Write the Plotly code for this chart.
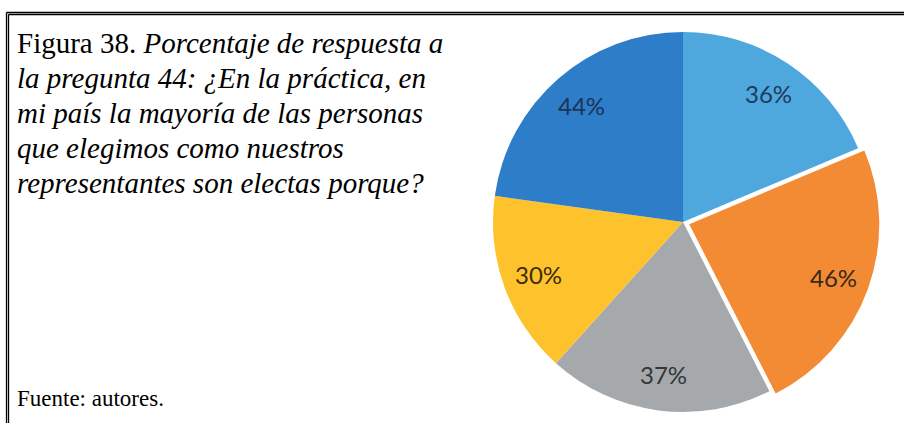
import math

import plotly.graph_objects as go

# -- Data --------------------------------------------------------------------
slice_names = ["A", "B", "C", "D", "E"]
slice_values = [36, 46, 37, 30, 44]
slice_labels = ["36%", "46%", "37%", "30%", "44%"]
slice_colors = ["#4EA8DE", "#F38B35", "#A6A9AC", "#FDC22C", "#2E7DC9"]
label_colors = ["#1F3A5A", "#3A2816", "#33373B", "#3C2E10", "#1B3556"]
slice_pull = [0, 0.035, 0, 0, 0]

title_lines = [
    "Figura 38. <i>Porcentaje de respuesta a</i>",
    "<i>la pregunta 44: ¿En la práctica, en</i>",
    "<i>mi país la mayoría de las personas</i>",
    "<i>que elegimos como nuestros</i>",
    "<i>representantes son electas porque?</i>",
]
source_text = "Fuente: autores."

W, H = 904, 423

# pie placement (pixels)
cx, cy, r = 683, 222, 190
side = 2 * r * (1 + max(slice_pull))

fig = go.Figure()
fig.add_trace(
    go.Pie(
        labels=slice_names,
        values=slice_values,
        textinfo="none",
        marker=dict(colors=slice_colors, line=dict(width=0)),
        pull=slice_pull,
        sort=False,
        direction="clockwise",
        rotation=0,
        hoverinfo="skip",
        domain=dict(
            x=[(cx - side / 2) / W, (cx + side / 2) / W],
            y=[max(0, (H - cy - side / 2) / H), min(1, (H - cy + side / 2) / H)],
        ),
        showlegend=False,
    )
)

# slice labels sit out towards the rim, at each slice's middle angle
total = sum(slice_values)
start = 0.0
for val, lab, col, pull in zip(slice_values, slice_labels, label_colors, slice_pull):
    mid = (start + val / 2) / total * 2 * math.pi
    start += val
    rr = r * (0.81 + pull)
    px = cx + rr * math.sin(mid)
    py = cy - rr * math.cos(mid)
    fig.add_annotation(
        x=px / W, y=1 - py / H, xref="paper", yref="paper",
        text=lab, showarrow=False, xanchor="center", yanchor="middle",
        font=dict(family="Lato", size=24, color=col),
    )

# caption on the left, one annotation per line
for i, line in enumerate(title_lines):
    fig.add_annotation(
        x=15 / W, y=1 - (43 + 35 * i) / H, xref="paper", yref="paper",
        text=line, showarrow=False, xanchor="left", yanchor="middle",
        font=dict(family="Liberation Serif", size=29, color="#000000"),
    )

fig.add_annotation(
    x=15 / W, y=1 - 398 / H, xref="paper", yref="paper",
    text=source_text, showarrow=False, xanchor="left", yanchor="middle",
    font=dict(family="Liberation Serif", size=23, color="#000000"),
)

# double frame line along top and left edges
frame = dict(color="#000000", width=1.3)
for off in (6.5, 8.5):
    top = off + 6
    fig.add_shape(type="line", xref="paper", yref="paper",
                  x0=off / W, x1=1, y0=1 - top / H, y1=1 - top / H, line=frame)
    fig.add_shape(type="line", xref="paper", yref="paper",
                  x0=off / W, x1=off / W, y0=1 - top / H, y1=0, line=frame)

fig.update_layout(
    width=W,
    height=H,
    margin=dict(l=0, r=0, t=0, b=0),
    paper_bgcolor="white",
    plot_bgcolor="white",
)

fig.write_html(
    "out.html",
    config={"displayModeBar": False},
    post_script="document.body.style.margin='0px';",
)
